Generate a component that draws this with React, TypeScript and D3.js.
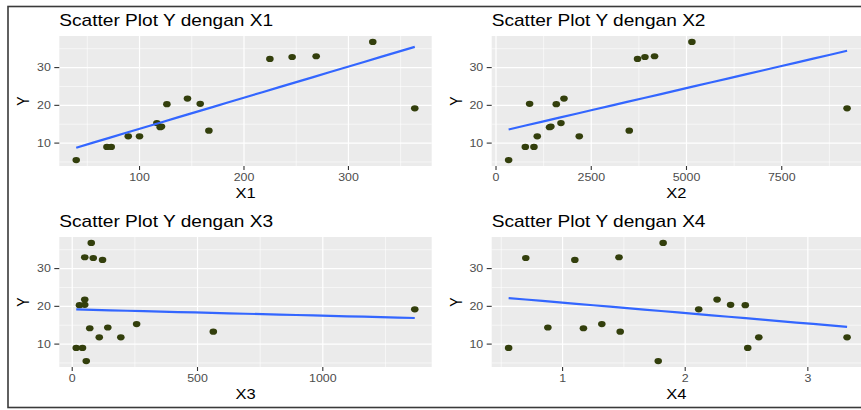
import React from "react";
import * as d3 from "d3";

const Y = [5.5, 9.0, 9.0, 11.8, 11.8, 13.3, 14.2, 14.4, 15.3, 19.2, 20.3, 20.4, 21.8, 32.3, 32.8, 33.0, 36.8];
const X1 = [39.4, 68.8, 72.9, 89.2, 100, 166.4, 119.8, 121, 116.6, 363.5, 126.2, 158.1, 145.9, 224.8, 246.1, 269.1, 323.3];
const X2 = [331, 769, 996, 1083, 2185, 3497, 1405, 1440, 1705, 9215, 1582, 882, 1784, 3715, 3909, 4161, 5142];
const X3 = [56, 16, 41, 108, 194, 563, 70, 142, 257, 1367, 29, 50, 50, 121, 84, 50, 76];
const X4 = [1.78, 0.56, 2.51, 2.6, 3.32, 1.47, 1.17, 0.88, 1.32, 2.11, 2.49, 2.37, 2.26, 1.1, 0.7, 1.46, 1.82];

const Y_TICKS = [10, 20, 30];
const Y_MINOR = [5, 15, 25, 35];
const X1_TICKS = [100, 200, 300];
const X1_MINOR = [50, 150, 250, 350];
const X2_TICKS = [0, 2500, 5000, 7500];
const X2_MINOR = [1250, 3750, 6250, 8750];
const X3_TICKS = [0, 500, 1000];
const X3_MINOR = [250, 750, 1250];
const X4_TICKS = [1, 2, 3];
const X4_MINOR = [0.5, 1.5, 2.5, 3.5];

const TITLES = ["Scatter Plot Y dengan X1", "Scatter Plot Y dengan X2", "Scatter Plot Y dengan X3", "Scatter Plot Y dengan X4"];
const XLABS = ["X1", "X2", "X3", "X4"];

const SX = 1.18; // horizontal stretch of the reference image
const FONT = "'Liberation Sans', Arial, sans-serif";

function Txt(props: any) {
  const { x, y, size, anchor = "start", fill = "#000", rotate = 0, children, dy } = props;
  return (
    <g transform={`translate(${x},${y}) scale(${SX},1)${rotate ? ` rotate(${rotate})` : ""}`}>
      <text
        x={0}
        y={0}
        dy={dy}
        fontSize={size}
        fontFamily={FONT}
        textAnchor={anchor}
        fill={fill}
      >
        {children}
      </text>
    </g>
  );
}

function extent5(v: number[]): [number, number] {
  const [a, b] = d3.extent(v) as [number, number];
  const p = (b - a) * 0.05;
  return [a - p, b + p];
}

function Panel(props: any) {
  const { xs, title, xlab, ticks, minor, left, right, top, bottom } = props;
  const x = d3.scaleLinear().domain(extent5(xs)).range([left, right]);
  const y = d3.scaleLinear().domain(extent5(Y)).range([bottom, top]);
  const [xd0, xd1] = x.domain();
  const [yd0, yd1] = y.domain();
  const inX = (v: number) => v >= xd0 && v <= xd1;
  const inY = (v: number) => v >= yd0 && v <= yd1;

  // least squares fit
  const mx = d3.mean(xs) as number;
  const my = d3.mean(Y) as number;
  let sxy = 0, sxx = 0;
  xs.forEach((v: number, i: number) => {
    sxy += (v - mx) * (Y[i] - my);
    sxx += (v - mx) * (v - mx);
  });
  const b = sxy / sxx;
  const a = my - b * mx;
  const [lx0, lx1] = d3.extent(xs) as [number, number];
  const fit = d3.line<number>().x((v) => x(v)).y((v) => y(a + b * v));
  const lineX = d3.range(0, 21).map((i) => lx0 + ((lx1 - lx0) * i) / 20);

  const clipId = `clip-${xlab}`;
  return (
    <g>
      <defs>
        <clipPath id={clipId}>
          <rect x={left} y={top} width={right - left} height={bottom - top} />
        </clipPath>
      </defs>
      <rect x={left} y={top} width={right - left} height={bottom - top} fill="#EBEBEB" />
      {Y_MINOR.filter(inY).map((t) => (
        <line key={`ym${t}`} x1={left} x2={right} y1={y(t)} y2={y(t)} stroke="#fff" strokeWidth={0.6} />
      ))}
      {minor.filter(inX).map((t: number) => (
        <line key={`xm${t}`} x1={x(t)} x2={x(t)} y1={top} y2={bottom} stroke="#fff" strokeWidth={0.6} />
      ))}
      {Y_TICKS.map((t) => (
        <line key={`yM${t}`} x1={left} x2={right} y1={y(t)} y2={y(t)} stroke="#fff" strokeWidth={1.2} />
      ))}
      {ticks.map((t: number) => (
        <line key={`xM${t}`} x1={x(t)} x2={x(t)} y1={top} y2={bottom} stroke="#fff" strokeWidth={1.2} />
      ))}
      <g clipPath={`url(#${clipId})`}>
        {xs.map((v: number, i: number) => (
          <ellipse key={i} cx={x(v)} cy={y(Y[i])} rx={3.8} ry={3.1} fill="#333F0C" />
        ))}
        <path d={fit(lineX) as string} fill="none" stroke="#3366FF" strokeWidth={2.2} />
      </g>
      {/* y axis */}
      {Y_TICKS.map((t) => (
        <g key={`yt${t}`}>
          <line x1={left - 5} x2={left} y1={y(t)} y2={y(t)} stroke="#333" strokeWidth={1.1} />
          <Txt x={left - 8.5} y={y(t)} dy="0.36em" size={10.5} anchor="end" fill="#4D4D4D">
            {String(t)}
          </Txt>
        </g>
      ))}
      {/* x axis */}
      {ticks.map((t: number) => (
        <g key={`xt${t}`}>
          <line x1={x(t)} x2={x(t)} y1={bottom} y2={bottom + 4} stroke="#333" strokeWidth={1.1} />
          <Txt x={x(t)} y={bottom + 15} size={10.5} anchor="middle" fill="#4D4D4D">
            {String(t)}
          </Txt>
        </g>
      ))}
      <Txt x={(left + Math.min(right, 861)) / 2 + (right > 861 ? 0 : 0)} y={bottom + 32} size={14} anchor="middle">
        {xlab}
      </Txt>
      <Txt x={left - 30} y={(top + bottom) / 2} size={14} anchor="middle" rotate={-90}>
        Y
      </Txt>
      <Txt x={left} y={top - 10} size={16.2}>
        {title}
      </Txt>
    </g>
  );
}

export default function App() {
  const L1 = 59.3, R1 = 431.7, L2 = 491.7, R2 = 864;
  const T1 = 36, B1 = 166, T2 = 237, B2 = 367;
  return (
    <div style={{ position: "fixed", left: 0, top: 0 }}>
      <svg width={861} height={410} style={{ display: "block", background: "#fff" }}>
        <rect x={0} y={0} width={861} height={410} fill="#fff" />
        <Panel xs={X1} title={TITLES[0]} xlab={XLABS[0]} ticks={X1_TICKS} minor={X1_MINOR} left={L1} right={R1} top={T1} bottom={B1} />
        <Panel xs={X2} title={TITLES[1]} xlab={XLABS[1]} ticks={X2_TICKS} minor={X2_MINOR} left={L2} right={R2} top={T1} bottom={B1} />
        <Panel xs={X3} title={TITLES[2]} xlab={XLABS[2]} ticks={X3_TICKS} minor={X3_MINOR} left={L1} right={R1} top={T2} bottom={B2} />
        <Panel xs={X4} title={TITLES[3]} xlab={XLABS[3]} ticks={X4_TICKS} minor={X4_MINOR} left={L2} right={R2} top={T2} bottom={B2} />
        <rect x={8} y={6.5} width={870} height={401} fill="none" stroke="#3A3A3A" strokeWidth={1.6} />
      </svg>
    </div>
  );
}
